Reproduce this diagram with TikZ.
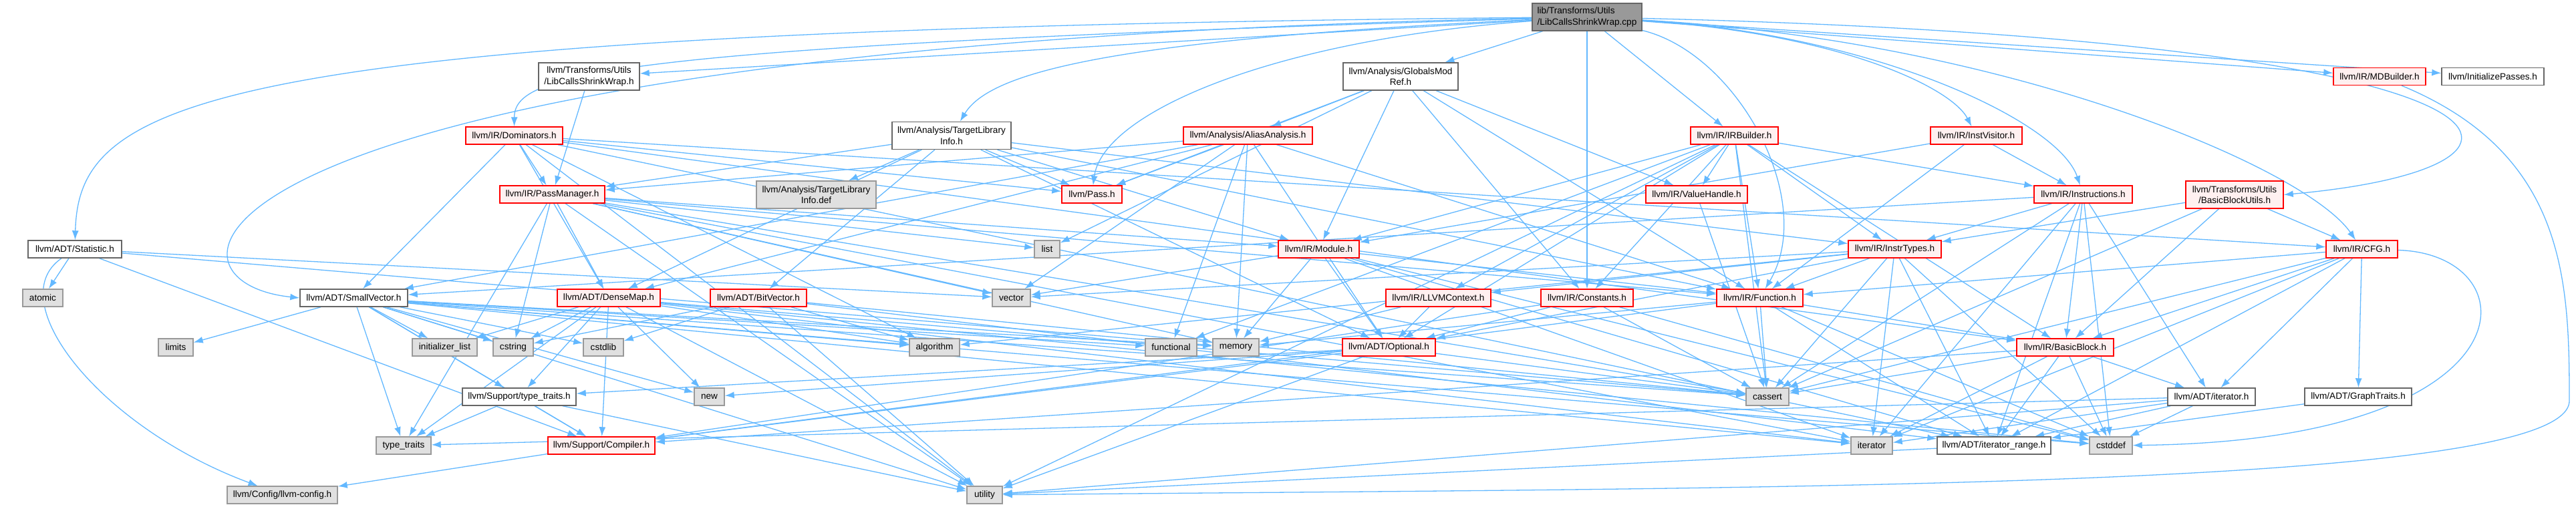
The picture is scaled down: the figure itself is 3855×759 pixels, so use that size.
\documentclass[tikz,border=0pt]{standalone}
\usepackage{fontspec}
\setmainfont{Liberation Sans}
\usetikzlibrary{arrows.meta, backgrounds}
\definecolor{dgEdge}{HTML}{63B8FF}
\definecolor{dgRed}{HTML}{FF0000}
\definecolor{dgPink}{HTML}{FFF0F0}
\definecolor{dgGrey}{HTML}{E0E0E0}
\definecolor{dgLine}{HTML}{999999}
\definecolor{dgDark}{HTML}{666666}

\begin{document}
\begin{tikzpicture}[x=1pt, y=-1pt,
  font=\fontsize{13.6}{16.5}\selectfont,
  hdr/.style={draw=dgDark, fill=white, line width=1.4pt, minimum height=26pt,
              inner sep=0pt, align=center},
  cutf/.style={hdr, draw=dgRed, fill=dgPink},
  sysh/.style={hdr, draw=dgLine, fill=dgGrey},
  mainf/.style={hdr, fill=dgLine, align=left, minimum height=41pt},
  inc/.style={-{Latex[length=14pt,width=10pt]}, draw=dgEdge, line width=1.3pt},
]
\useasboundingbox (0,0) rectangle (3855,759);

% top file
\node[mainf, minimum width=164pt] (root) at (2375,25.5) {lib/Transforms/Utils\\/LibCallsShrinkWrap.cpp};
% rank 1
\node[hdr, minimum width=151pt, minimum height=41pt] (lcswh) at (881.5,114.5) {llvm/Transforms/Utils\\/LibCallsShrinkWrap.h};
\node[hdr, minimum width=172pt, minimum height=41pt] (gmr) at (2096,114.5) {llvm/Analysis/GlobalsMod\\Ref.h};
\node[cutf, minimum width=138pt] (mdb) at (3561,114.5) {llvm/IR/MDBuilder.h};
\node[hdr, minimum width=153pt] (initp) at (3730.5,114.5) {llvm/InitializePasses.h};
% rank 2
\node[cutf, minimum width=145pt] (dom) at (769.5,203) {llvm/IR/Dominators.h};
\node[hdr, minimum width=178pt, minimum height=41pt] (tli) at (1424,203) {llvm/Analysis/TargetLibrary\\Info.h};
\node[cutf, minimum width=193pt] (aa) at (1867.5,203) {llvm/Analysis/AliasAnalysis.h};
\node[cutf, minimum width=131pt] (irb) at (2595.5,203) {llvm/IR/IRBuilder.h};
\node[cutf, minimum width=137pt] (iv) at (2957.5,203) {llvm/IR/InstVisitor.h};
% rank 3
\node[cutf, minimum width=157pt] (pm) at (826.5,291) {llvm/IR/PassManager.h};
\node[sysh, minimum width=179pt, minimum height=41pt] (tlidef) at (1221.5,291.5) {llvm/Analysis/TargetLibrary\\Info.def};
\node[cutf, minimum width=90pt] (pass) at (1634,291) {llvm/Pass.h};
\node[cutf, minimum width=152pt] (vh) at (2539,291) {llvm/IR/ValueHandle.h};
\node[cutf, minimum width=147pt] (instrs) at (3117.5,291) {llvm/IR/Instructions.h};
\node[cutf, minimum width=146pt, minimum height=41pt] (bbu) at (3344,291.5) {llvm/Transforms/Utils\\/BasicBlockUtils.h};
% rank 4
\node[hdr, minimum width=140pt] (stat) at (112,373) {llvm/ADT/Statistic.h};
\node[sysh, minimum width=38pt] (list) at (1567,373) {list};
\node[cutf, minimum width=121pt] (mod) at (1973.5,373) {llvm/IR/Module.h};
\node[cutf, minimum width=139pt] (itypes) at (2835.5,373) {llvm/IR/InstrTypes.h};
\node[cutf, minimum width=107pt] (cfg) at (3534.5,373) {llvm/IR/CFG.h};
% rank 5
\node[sysh, minimum width=60pt] (atomic) at (64,446) {atomic};
\node[hdr, minimum width=161pt] (sv) at (529.5,446) {llvm/ADT/SmallVector.h};
\node[cutf, minimum width=154pt] (dmap) at (911,446) {llvm/ADT/DenseMap.h};
\node[cutf, minimum width=144pt] (bitv) at (1135,446) {llvm/ADT/BitVector.h};
\node[sysh, minimum width=57pt] (vector) at (1513.5,446) {vector};
\node[cutf, minimum width=157pt] (ctx) at (2152.5,446) {llvm/IR/LLVMContext.h};
\node[cutf, minimum width=138pt] (consts) at (2375,446) {llvm/IR/Constants.h};
\node[cutf, minimum width=129pt] (func) at (2633.5,446) {llvm/IR/Function.h};
% rank 6
\node[sysh, minimum width=52pt] (limits) at (263,520) {limits};
\node[sysh, minimum width=97pt] (initl) at (665.5,520) {initializer\_list};
\node[sysh, minimum width=60pt] (cstring) at (768,520) {cstring};
\node[sysh, minimum width=60pt] (cstdlib) at (903,520) {cstdlib};
\node[sysh, minimum width=75pt] (algo) at (1398.5,520) {algorithm};
\node[sysh, minimum width=77pt] (functional) at (1752.5,520) {functional};
\node[sysh, minimum width=69pt] (memory) at (1849.5,520) {memory};
\node[cutf, minimum width=139pt] (opt) at (2078.5,520) {llvm/ADT/Optional.h};
\node[cutf, minimum width=145pt] (bb) at (3090.5,520) {llvm/IR/BasicBlock.h};
% rank 7
\node[hdr, minimum width=170pt] (stt) at (777,594) {llvm/Support/type\_traits.h};
\node[sysh, minimum width=45pt] (new) at (1061.5,594) {new};
\node[sysh, minimum width=64pt] (cassert) at (2645,594) {cassert};
\node[hdr, minimum width=131pt] (iterh) at (3309.5,594) {llvm/ADT/iterator.h};
\node[hdr, minimum width=160pt] (gt) at (3529,594) {llvm/ADT/GraphTraits.h};
% rank 8
\node[sysh, minimum width=82pt] (tt) at (604,667) {type\_traits};
\node[cutf, minimum width=160pt] (comp) at (900,667) {llvm/Support/Compiler.h};
\node[sysh, minimum width=62pt] (iterator) at (2801,667) {iterator};
\node[hdr, minimum width=170pt] (itr) at (2984,667) {llvm/ADT/iterator\_range.h};
\node[sysh, minimum width=64pt] (cstddef) at (3159,667) {cstddef};
% rank 9
\node[sysh, minimum width=165pt] (cfgh) at (422.5,741) {llvm/Config/llvm-config.h};
\node[sysh, minimum width=53pt] (utility) at (1473.5,741) {utility};

% includes
\begin{scope}[on background layer]
\foreach \t in {lcswh,gmr,consts,irb,mdb,initp} \draw[inc] (root) -- (\t);
\draw[inc] (root) .. controls (300,45) and (118,150) .. (stat);
\draw[inc] (root) .. controls (260,70) and (200,420) .. (sv.west);
\draw[inc] (root) .. controls (900,70) and (770,110) .. (dom);
\draw[inc] (root) .. controls (1650,60) and (1480,110) .. (tli);
\draw[inc] (root) .. controls (1900,60) and (1650,170) .. (pass);
\draw[inc] (root) .. controls (3830,60) and (3880,250) .. (bbu.east);
\draw[inc] (root) .. controls (3000,60) and (3450,250) .. (cfg);
\draw[inc] (root) .. controls (2800,50) and (3080,180) .. (instrs);
\draw[inc] (root) .. controls (2750,50) and (2920,130) .. (iv);
\draw[inc] (root) .. controls (2600,80) and (2720,300) .. (func);
\draw[inc] (lcswh) -- (pm);
\foreach \t in {atomic,comp,memory,vector} \draw[inc] (stat) -- (\t);
\draw[inc] (stat) .. controls (0,450) and (150,640) .. (cfgh);
\foreach \t in {aa,consts,func,mod,vh,pass,list} \draw[inc] (gmr) -- (\t);
\foreach \t in {bitv,dmap,opt,func,itypes,mod,pm,pass,tlidef} \draw[inc] (tli) -- (\t);
\foreach \t in {dmap,sv,pm,pass,cfg,bb,itr,algo,utility} \draw[inc] (dom) -- (\t);
\foreach \t in {dmap,func,mod,cassert,cstring,iterator,list,memory,tt,utility,vector} \draw[inc] (pm) -- (\t);
\foreach \t in {pm,pass,sv,dmap,functional,memory,vector,opt,func} \draw[inc] (aa) -- (\t);
\foreach \t in {bb,consts,func,itypes,instrs,ctx,mod,vh,cassert,functional,utility,opt} \draw[inc] (irb) -- (\t);
\foreach \t in {func,instrs,mod} \draw[inc] (iv) -- (\t);
\foreach \t in {sv,itypes,cassert,bb,itr,iterator,cstddef,iterh} \draw[inc] (instrs) -- (\t);
\draw[inc] (mdb) .. controls (3840,230) and (3845,420) .. (3845,600)
                 .. controls (3845,735) and (2600,730) .. (utility);
\foreach \t in {bb,cfg,itypes,cassert} \draw[inc] (bbu) -- (\t);
\foreach \t in {opt,itr,func,cstddef,iterator,memory,vector} \draw[inc] (mod) -- (\t);
\foreach \t in {opt,memory} \draw[inc] (ctx) -- (\t);
\foreach \t in {opt,comp,cassert,cstddef} \draw[inc] (consts) -- (\t);
\foreach \t in {itr,bb,comp,cassert,cstddef,memory} \draw[inc] (func) -- (\t);
\foreach \t in {opt,itr,func,ctx,algo,cassert,cstddef,iterator,vector} \draw[inc] (itypes) -- (\t);
\foreach \t in {gt,iterh,itr,bb,func,cassert,iterator} \draw[inc] (cfg) -- (\t);
\draw[inc] (cfg) .. controls (3790,380) and (3800,660) .. (cstddef);
\foreach \t in {comp,stt,algo,cassert,cstddef,cstdlib,cstring,functional,initl,iterator,limits,memory,new,tt,utility} \draw[inc] (sv) -- (\t);
\foreach \t in {comp,stt,algo,cassert,cstddef,cstring,initl,iterator,new,tt,utility} \draw[inc] (dmap) -- (\t);
\foreach \t in {itr,algo,cassert,cstdlib,cstring,utility} \draw[inc] (bitv) -- (\t);
\foreach \t in {comp,stt,cassert,new,utility} \draw[inc] (opt) -- (\t);
\foreach \t in {comp,tt,utility} \draw[inc] (stt) -- (\t);
\draw[inc] (comp) -- (cfgh);
\draw[inc] (vh) -- (cassert);
\foreach \t in {iterh,itr,comp,cassert,cstddef,iterator} \draw[inc] (bb) -- (\t);
\foreach \t in {itr,cstddef,iterator,tt,utility} \draw[inc] (iterh) -- (\t);
\draw[inc] (itr) -- (utility);
\draw[inc] (gt) -- (itr);
\end{scope}
\end{tikzpicture}
\end{document}
